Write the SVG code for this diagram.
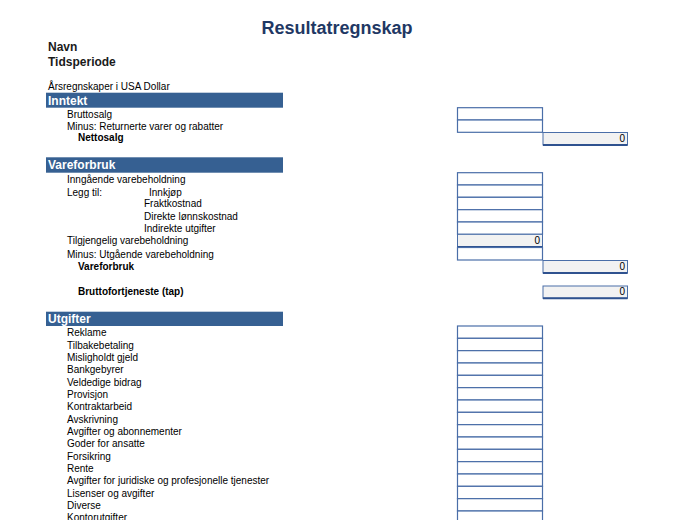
<svg xmlns="http://www.w3.org/2000/svg" width="675" height="520" viewBox="0 0 675 520">
<style>
text{font-family:"Liberation Sans",Arial,sans-serif;fill:#000}
.title{font-size:18px;font-weight:bold;fill:#1F3864}
.meta{font-size:12px;font-weight:bold;fill:#1a1a1a}
.t{font-size:10px}
.b{font-size:10px;font-weight:bold}
.hd{fill:#366092}
.ht{font-size:12px;font-weight:bold;fill:#fff}
.in{fill:#fff;stroke:#4A6EA8;stroke-width:1.2}
.sum{fill:#F2F2F2;stroke:#4A6EA8;stroke-width:1}
.thick{stroke:#2F528F;stroke-width:2}
.z{font-size:10px;text-anchor:end}
</style>
<rect width="675" height="520" fill="#fff"/>
<g id="header">
<text class="title" x="337" y="34" text-anchor="middle">Resultatregnskap</text>
<text class="meta" x="48" y="51">Navn</text>
<text class="meta" x="48" y="66">Tidsperiode</text>
<text class="t" x="48" y="90">Årsregnskaper i USA Dollar</text>
</g>
<g id="inntekt">
<rect class="hd" x="46" y="92.7" width="237" height="15"/>
<text class="ht" x="48" y="104.5">Inntekt</text>
<text class="t" x="67" y="117.5">Bruttosalg</text>
<text class="t" x="67" y="130">Minus: Returnerte varer og rabatter</text>
<text class="b" x="78" y="141.3">Nettosalg</text>
<rect class="in" x="457.5" y="107.7" width="85" height="12.3"/>
<rect class="in" x="457.5" y="120" width="85" height="12.3"/>
<rect class="sum" x="543" y="132.5" width="84.5" height="12.5"/>
<line class="thick" x1="543" y1="145" x2="627.5" y2="145"/>
<text class="z" x="625" y="141.5">0</text>
</g>
<g id="vareforbruk">
<rect class="hd" x="46" y="157.3" width="237" height="15.4"/>
<text class="ht" x="48" y="169.2">Vareforbruk</text>
<text class="t" x="67" y="182.8">Inngående varebeholdning</text>
<text class="t" x="67" y="195.5">Legg til:</text>
<text class="t" x="149" y="195.5">Innkjøp</text>
<text class="t" x="144" y="207.2">Fraktkostnad</text>
<text class="t" x="144" y="219.5">Direkte lønnskostnad</text>
<text class="t" x="144" y="232.3">Indirekte utgifter</text>
<text class="t" x="67" y="244.2">Tilgjengelig varebeholdning</text>
<text class="t" x="67" y="257.6">Minus: Utgående varebeholdning</text>
<text class="b" x="78" y="269.8">Vareforbruk</text>
<rect class="in" x="457.5" y="172.7" width="85" height="12.3"/>
<rect class="in" x="457.5" y="185" width="85" height="12.3"/>
<rect class="in" x="457.5" y="197.3" width="85" height="12.4"/>
<rect class="in" x="457.5" y="209.7" width="85" height="12.3"/>
<rect class="in" x="457.5" y="222" width="85" height="12.3"/>
<rect class="sum" x="457.5" y="234.3" width="85" height="12.7"/>
<line class="thick" x1="457.5" y1="247" x2="542.5" y2="247"/>
<text class="z" x="540" y="243.8">0</text>
<rect class="in" x="457.5" y="247.5" width="85" height="12.5"/>
<rect class="sum" x="543" y="260.5" width="84.5" height="12.5"/>
<line class="thick" x1="543" y1="273" x2="627.5" y2="273"/>
<text class="z" x="625" y="269.5">0</text>
</g>
<g id="bruttofortjeneste">
<text class="b" x="78" y="295.2">Bruttofortjeneste (tap)</text>
<rect class="sum" x="543" y="286" width="84.5" height="12.3"/>
<line class="thick" x1="543" y1="298.3" x2="627.5" y2="298.3"/>
<text class="z" x="625" y="295">0</text>
</g>
<g id="utgifter">
<rect class="hd" x="46" y="311.7" width="237" height="14.3"/>
<text class="ht" x="48" y="323.3">Utgifter</text>
<text class="t" x="67" y="336.2">Reklame</text>
<text class="t" x="67" y="348.5">Tilbakebetaling</text>
<text class="t" x="67" y="360.8">Misligholdt gjeld</text>
<text class="t" x="67" y="373.2">Bankgebyrer</text>
<text class="t" x="67" y="385.5">Veldedige bidrag</text>
<text class="t" x="67" y="397.8">Provisjon</text>
<text class="t" x="67" y="410.2">Kontraktarbeid</text>
<text class="t" x="67" y="422.5">Avskrivning</text>
<text class="t" x="67" y="434.8">Avgifter og abonnementer</text>
<text class="t" x="67" y="447.2">Goder for ansatte</text>
<text class="t" x="67" y="459.5">Forsikring</text>
<text class="t" x="67" y="471.8">Rente</text>
<text class="t" x="67" y="484.2">Avgifter for juridiske og profesjonelle tjenester</text>
<text class="t" x="67" y="496.5">Lisenser og avgifter</text>
<text class="t" x="67" y="508.8">Diverse</text>
<text class="t" x="67" y="521.2">Kontorutgifter</text>
<rect class="in" x="457.5" y="326" width="85" height="12.33"/>
<rect class="in" x="457.5" y="338.33" width="85" height="12.33"/>
<rect class="in" x="457.5" y="350.66" width="85" height="12.33"/>
<rect class="in" x="457.5" y="363" width="85" height="12.33"/>
<rect class="in" x="457.5" y="375.33" width="85" height="12.33"/>
<rect class="in" x="457.5" y="387.66" width="85" height="12.33"/>
<rect class="in" x="457.5" y="400" width="85" height="12.33"/>
<rect class="in" x="457.5" y="412.33" width="85" height="12.33"/>
<rect class="in" x="457.5" y="424.66" width="85" height="12.33"/>
<rect class="in" x="457.5" y="437" width="85" height="12.33"/>
<rect class="in" x="457.5" y="449.33" width="85" height="12.33"/>
<rect class="in" x="457.5" y="461.66" width="85" height="12.33"/>
<rect class="in" x="457.5" y="474" width="85" height="12.33"/>
<rect class="in" x="457.5" y="486.33" width="85" height="12.33"/>
<rect class="in" x="457.5" y="498.66" width="85" height="12.33"/>
<rect class="in" x="457.5" y="511" width="85" height="12.33"/>
</g>
</svg>
